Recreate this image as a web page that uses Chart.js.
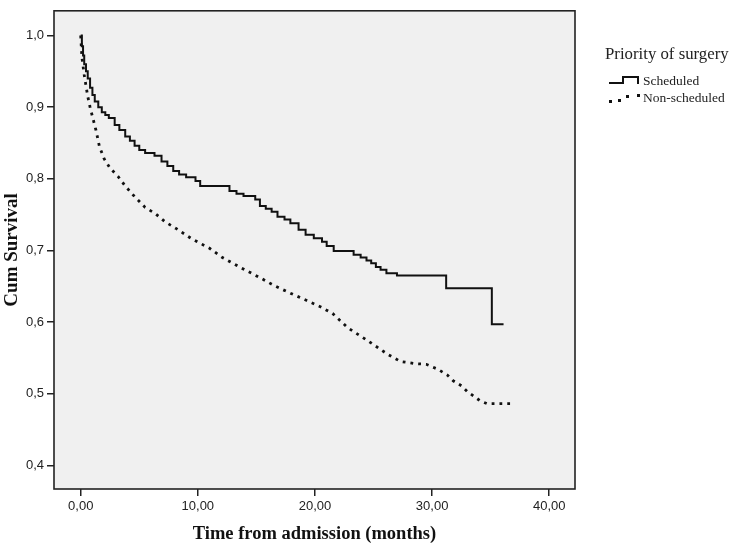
<!DOCTYPE html>
<html>
<head>
<meta charset="utf-8">
<script src="https://cdn.jsdelivr.net/npm/chart.js@4.4.1/dist/chart.umd.min.js"></script>
<style>
  html, body { margin: 0; padding: 0; background: #fff; }
</style>
</head>
<body>
<canvas id="chart" width="735" height="546"></canvas>
<script>
// Kaplan-Meier estimates (months, cumulative survival)
const schedTime = [0, 0.1, 0.2, 0.3, 0.45, 0.6, 0.8, 1.0, 1.2, 1.5, 1.8, 2.1, 2.4, 2.9, 3.3, 3.8, 4.2, 4.6, 5.0, 5.5,
  6.3, 6.9, 7.4, 7.9, 8.4, 9.0, 9.8, 10.2, 12.7, 13.3, 13.9, 14.9, 15.3, 15.8, 16.3, 16.8, 17.4, 17.9, 18.6, 19.2,
  19.9, 20.6, 21.0, 21.6, 23.3, 23.9, 24.4, 24.8, 25.2, 25.6, 26.1, 27.0, 31.2, 35.1, 36.1];
const schedSurv = [1.0, 0.985, 0.972, 0.96, 0.95, 0.94, 0.927, 0.917, 0.908, 0.90, 0.893, 0.889, 0.885, 0.875, 0.868, 0.859, 0.853, 0.846, 0.840, 0.836,
  0.832, 0.824, 0.818, 0.811, 0.806, 0.802, 0.797, 0.790, 0.783, 0.779, 0.776, 0.771, 0.762, 0.758, 0.754, 0.747, 0.743, 0.738, 0.729, 0.722,
  0.717, 0.712, 0.706, 0.699, 0.694, 0.690, 0.686, 0.682, 0.677, 0.673, 0.668, 0.665, 0.647, 0.597, 0.597];

const nonSchedTime = [0, 0.1, 0.3, 0.6, 0.8, 1.0, 1.3, 1.6, 2.0, 2.5, 3.2, 3.8, 4.5, 5.5, 6.4, 7.2, 8.1, 9.5, 11.0, 12.1,
  14.0, 15.3, 16.5, 17.8, 19.3, 20.5, 21.5, 22.8, 24.5, 26.2, 27.3, 28.5, 29.5, 30.5, 31.3, 31.8, 32.5, 33.0, 33.6, 34.1,
  34.7, 36.7];
const nonSchedSurv = [1.0, 0.97, 0.945, 0.915, 0.90, 0.887, 0.868, 0.845, 0.828, 0.815, 0.803, 0.79, 0.777, 0.76, 0.751, 0.74, 0.731, 0.716, 0.703, 0.69,
  0.673, 0.662, 0.651, 0.641, 0.63, 0.621, 0.612, 0.592, 0.574, 0.555, 0.545, 0.542, 0.541, 0.534, 0.526, 0.518, 0.511, 0.503, 0.496, 0.49,
  0.486, 0.486];

const yTicks = [0.4, 0.5, 0.6, 0.7, 0.8, 0.9, 1.0];
const xTicks = [0, 10, 20, 30, 40];
const seriesNames = ["Scheduled", "Non-scheduled"];
const legendTitle = "Priority of surgery";

const toPoints = (xs, ys) => xs.map((x, i) => ({ x: x, y: ys[i] }));

const SERIF = "'Liberation Serif', 'Times New Roman', serif";
const SANS = "'Liberation Sans', Arial, sans-serif";

// grey plot background + frame
const plotFrame = {
  id: 'plotFrame',
  beforeDraw(chart) {
    const { ctx, chartArea: a } = chart;
    ctx.save();
    ctx.fillStyle = '#f0f0f0';
    ctx.fillRect(a.left, a.top, a.right - a.left, a.bottom - a.top);
    ctx.restore();
  },
  afterDatasetsDraw(chart) {
    const { ctx, chartArea: a } = chart;
    ctx.save();
    ctx.strokeStyle = '#222';
    ctx.lineWidth = 1.6;
    ctx.strokeRect(a.left, a.top, a.right - a.left, a.bottom - a.top);
    ctx.restore();
  }
};

// SPSS style legend to the right of the plot
const sideLegend = {
  id: 'sideLegend',
  afterDraw(chart) {
    const ctx = chart.ctx;
    ctx.save();
    ctx.fillStyle = '#222';
    ctx.textBaseline = 'alphabetic';
    ctx.font = '16.8px ' + SERIF;
    ctx.fillText(legendTitle, 605, 59);

    ctx.font = '13.5px ' + SERIF;
    // solid step sample
    ctx.strokeStyle = '#111';
    ctx.lineWidth = 2;
    ctx.beginPath();
    ctx.moveTo(609, 83);
    ctx.lineTo(623, 83);
    ctx.lineTo(623, 77);
    ctx.lineTo(638, 77);
    ctx.lineTo(638, 84);
    ctx.stroke();
    ctx.fillText(chart.data.datasets[0].label, 643, 85);

    // dotted sample
    ctx.fillStyle = '#111';
    [[609, 100], [618, 99], [626, 95], [637, 94]].forEach(p => ctx.fillRect(p[0], p[1], 3, 3));
    ctx.fillStyle = '#222';
    ctx.fillText(chart.data.datasets[1].label, 643, 102);
    ctx.restore();
  }
};

const config = {
  type: 'scatter',
  data: {
    datasets: [
      {
        label: seriesNames[0],
        data: toPoints(schedTime, schedSurv),
        showLine: true,
        stepped: true,
        borderColor: '#111',
        borderWidth: 2,
        pointRadius: 0,
        fill: false
      },
      {
        label: seriesNames[1],
        data: toPoints(nonSchedTime, nonSchedSurv),
        showLine: true,
        stepped: false,
        borderColor: '#111',
        borderWidth: 2.8,
        borderDash: [2.8, 5],
        borderCapStyle: 'butt',
        pointRadius: 0,
        fill: false
      }
    ]
  },
  options: {
    responsive: false,
    animation: false,
    layout: { padding: { top: 5, right: 160, left: 0, bottom: 0 } },
    plugins: {
      legend: { display: false },
      tooltip: { enabled: false }
    },
    scales: {
      x: {
        type: 'linear',
        min: -2.28,
        max: 42.2,
        afterBuildTicks: s => { s.ticks = xTicks.map(v => ({ value: v })); },
        afterFit: s => { s.height = 57; },
        border: { display: false },
        grid: { drawOnChartArea: false, drawTicks: true, tickLength: 7, color: '#222', lineWidth: 1.5 },
        ticks: {
          color: '#222',
          padding: 3,
          maxRotation: 0,
          font: { family: SANS, size: 13 },
          callback: v => v.toFixed(2).replace('.', ',')
        },
        title: {
          display: true,
          text: 'Time from admission (months)',
          color: '#111',
          font: { family: SERIF, size: 18.5, weight: 'bold' },
          padding: { top: 0, bottom: 1 }
        }
      },
      y: {
        type: 'linear',
        min: 0.3669,
        max: 1.0345,
        afterBuildTicks: s => { s.ticks = yTicks.map(v => ({ value: v })); },
        afterFit: s => { s.width = 54; },
        border: { display: false },
        grid: { drawOnChartArea: false, drawTicks: true, tickLength: 7, color: '#222', lineWidth: 1.5 },
        ticks: {
          color: '#222',
          padding: 3,
          font: { family: SANS, size: 13 },
          callback: v => v.toFixed(1).replace('.', ',')
        },
        title: {
          display: true,
          text: 'Cum Survival',
          color: '#111',
          font: { family: SERIF, size: 19, weight: 'bold' },
          padding: { top: 1, bottom: 0 }
        }
      }
    }
  },
  plugins: [plotFrame, sideLegend]
};

new Chart(document.querySelector('#chart'), config);
</script>
</body>
</html>
